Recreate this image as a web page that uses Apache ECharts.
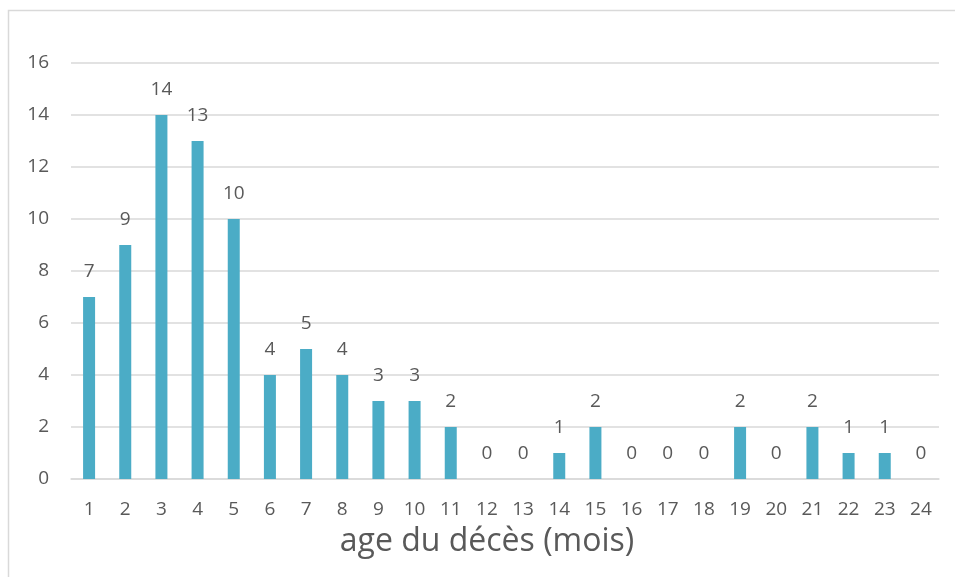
<!DOCTYPE html>
<html>
<head>
<meta charset="utf-8">
<script src="https://cdn.jsdelivr.net/npm/echarts@6/dist/echarts.min.js"></script>
<style>
html, body { margin: 0; padding: 0; background: #fff; }
#chart { width: 955px; height: 577px; }
</style>
</head>
<body>
<div id="chart"></div>
<script>
// ages (mois)
var categories = ['1','2','3','4','5','6','7','8','9','10','11','12',
                  '13','14','15','16','17','18','19','20','21','22','23','24'];
// nombre de décès
var values = [7, 9, 14, 13, 10, 4, 5, 4, 3, 3, 2, 0, 0, 1, 2, 0, 0, 0, 2, 0, 2, 1, 1, 0];
var xTitle = 'age du décès (mois)';

var textColor = '#595959';
var fontName = 'Open Sans';

var myChart = echarts.init(document.getElementById('chart'));
var option = {
    animation: false,
    backgroundColor: '#fff',
    graphic: [
        {
            type: 'rect',
            shape: { x: 8.5, y: 10.5, width: 1000, height: 1000 },
            style: { fill: null, stroke: '#d9d9d9', lineWidth: 1.5 },
            silent: true
        },
        {
            type: 'text',
            x: 487,
            y: 526,
            style: {
                text: xTitle,
                fill: textColor,
                textAlign: 'center',
                font: '32px "Open Sans"'
            }
        }
    ],
    grid: {
        left: 71,
        right: 16,
        top: 63,
        bottom: 98
    },
    xAxis: {
        type: 'category',
        data: categories,
        axisLine: { lineStyle: { color: '#d9d9d9', width: 1.5 } },
        axisTick: { show: false },
        axisLabel: {
            color: textColor,
            fontSize: 19,
            fontFamily: fontName,
            margin: 21
        }
    },
    yAxis: {
        type: 'value',
        min: 0,
        max: 16,
        interval: 2,
        axisLine: { show: false },
        axisTick: { show: false },
        splitLine: { lineStyle: { color: '#d9d9d9', width: 1.5 } },
        axisLabel: {
            color: textColor,
            fontSize: 19,
            fontFamily: fontName,
            margin: 22
        }
    },
    series: [
        {
            name: 'décès',
            type: 'bar',
            data: values,
            barWidth: 12,
            itemStyle: { color: '#4bacc6' },
            label: {
                show: true,
                position: 'top',
                distance: 16,
                color: textColor,
                fontSize: 19,
                fontFamily: fontName
            }
        }
    ]
};
myChart.setOption(option);
</script>
</body>
</html>
